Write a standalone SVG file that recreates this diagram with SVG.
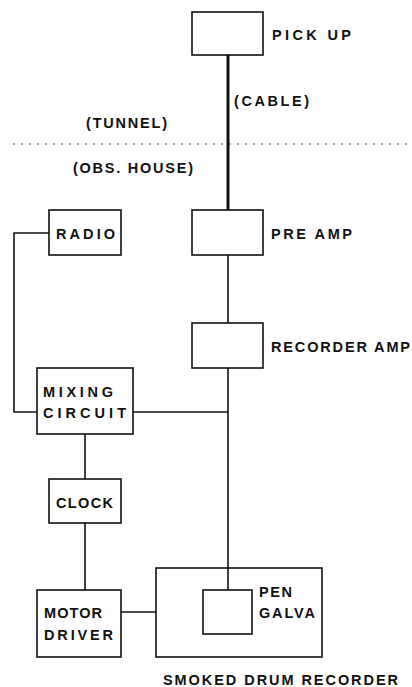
<svg xmlns="http://www.w3.org/2000/svg" width="412" height="687" viewBox="0 0 412 687">
<style>
.box{fill:none;stroke:#111;stroke-width:1.6}
.ln{fill:none;stroke:#111;stroke-width:1.6}
.thick{fill:none;stroke:#111;stroke-width:3}
.dot{fill:none;stroke:#444;stroke-width:1.2;stroke-dasharray:2 6}
text{font-family:"Liberation Sans",Arial,sans-serif;font-weight:bold;font-size:14.5px;fill:#111}
</style>
<rect width="412" height="687" fill="#fff"/>
<g id="connectors">
<line class="thick" x1="228" y1="55" x2="228" y2="210"/>
<line class="ln" x1="228" y1="255" x2="228" y2="323"/>
<line class="ln" x1="228" y1="368" x2="228" y2="590"/>
<polyline class="ln" points="49,233 14,233 14,412 37,412"/>
<line class="ln" x1="133" y1="412" x2="228" y2="412"/>
<line class="ln" x1="85" y1="434" x2="85" y2="479"/>
<line class="ln" x1="85" y1="523" x2="85" y2="590"/>
<line class="ln" x1="121" y1="612" x2="156" y2="612"/>
</g>
<g id="boundary">
<line class="dot" x1="13" y1="144" x2="408" y2="144"/>
<text x="86" y="128" textLength="81" lengthAdjust="spacing">(TUNNEL)</text>
<text x="73" y="173" textLength="120" lengthAdjust="spacing">(OBS. HOUSE)</text>
<text x="234" y="106" textLength="75" lengthAdjust="spacing">(CABLE)</text>
</g>
<g id="pickup">
<rect class="box" x="192" y="12" width="71" height="43"/>
<text x="272" y="40" textLength="79" lengthAdjust="spacing">PICK UP</text>
</g>
<g id="preamp">
<rect class="box" x="192" y="210" width="71" height="45"/>
<text x="271" y="239" textLength="81" lengthAdjust="spacing">PRE AMP</text>
</g>
<g id="recorderamp">
<rect class="box" x="192" y="323" width="71" height="45"/>
<text x="271" y="352" textLength="139" lengthAdjust="spacing">RECORDER AMP</text>
</g>
<g id="radio">
<rect class="box" x="49" y="210" width="72" height="45"/>
<text x="56" y="239" textLength="59" lengthAdjust="spacing">RADIO</text>
</g>
<g id="mixing">
<rect class="box" x="37" y="368" width="96" height="66"/>
<text x="43" y="397" textLength="70" lengthAdjust="spacing">MIXING</text>
<text x="43" y="418" textLength="83" lengthAdjust="spacing">CIRCUIT</text>
</g>
<g id="clock">
<rect class="box" x="49" y="479" width="72" height="44"/>
<text x="56" y="508" textLength="57" lengthAdjust="spacing">CLOCK</text>
</g>
<g id="motordriver">
<rect class="box" x="37" y="590" width="84" height="67"/>
<text x="44" y="618" textLength="58" lengthAdjust="spacing">MOTOR</text>
<text x="44" y="640" textLength="69" lengthAdjust="spacing">DRIVER</text>
</g>
<g id="recorder">
<rect class="box" x="156" y="568" width="166" height="89"/>
<text x="163" y="685" textLength="235" lengthAdjust="spacing">SMOKED DRUM RECORDER</text>
</g>
<g id="pengalva">
<rect class="box" x="203" y="590" width="49" height="44"/>
<text x="259" y="597" textLength="33" lengthAdjust="spacing">PEN</text>
<text x="259" y="618" textLength="56" lengthAdjust="spacing">GALVA</text>
</g>
</svg>
